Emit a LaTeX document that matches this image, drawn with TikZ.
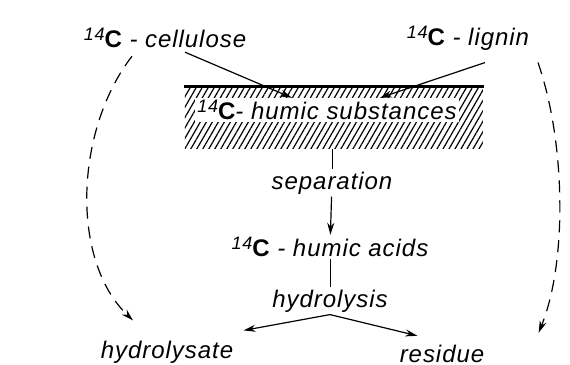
\documentclass[tikz,border=0pt]{standalone}
\usepackage{fontspec}
\setmainfont{Liberation Sans}[LetterSpace=4]
\usetikzlibrary{arrows.meta,patterns.meta}
\newcommand{\isoC}{\raisebox{0.55ex}{\fontsize{9}{10}\selectfont 14}{\upshape\bfseries C}}

\begin{document}
\begin{tikzpicture}[x=0.5pt,y=-0.5pt,
lbl/.style={font=\fontsize{12}{14}\selectfont\itshape, inner sep=1pt},
hatchbox/.style={pattern={Lines[angle=60,distance=2.6pt,line width=0.6pt]}, minimum width=149pt, minimum height=30.5pt, inner sep=0pt},
arrow/.style={-{Stealth[length=6pt,width=3.5pt]}, semithick},
dasharrow/.style={arrow, dash pattern=on 6pt off 4pt}
]
\useasboundingbox (0,0) rectangle (570,365);
% starting materials
\node[lbl] (cell) at (165,38) {\isoC{} - cellulose};
\node[lbl] (lig) at (468,38) {\isoC{} - lignin};
% humic substances (hatched)
\node[hatchbox] (hs) at (334,117.5) {};
\draw[line width=1.2pt] (hs.north west) -- (hs.north east);
\node[lbl, fill=white] (subst) at (327,110) {\isoC{}- humic substances};
\draw[arrow] ([xshift=10pt,yshift=-1pt]cell.south) -- ([xshift=-17.5pt]subst.north);
\draw[arrow] ([xshift=8.5pt,yshift=-5pt]lig.south) -- ([xshift=26.5pt]subst.north);
% separation and hydrolysis
\node[lbl] (sep) at (332,183) {separation};
\node[lbl] (acids) at (330,247) {\isoC{} - humic acids};
\node[lbl] (hydr) at (330,301) {hydrolysis};
\node[lbl] (hyd) at (167,352) {hydrolysate};
\node[lbl] (res) at (442,354) {residue};
\draw (sep.north |- hs.south) -- (sep.north);
\draw[arrow] (sep) -- (acids);
\draw (acids) -- (hydr);
\draw[arrow] (hydr.south) -- ([xshift=4pt,yshift=4pt]hyd.north east);
\draw[arrow] (hydr.south) -- ([xshift=10pt,yshift=3.5pt]res.north west);
% direct hydrolysis (dashed)
\draw[dasharrow] ([xshift=-16.5pt,yshift=-3pt]cell.south) .. controls (75,130) and (70,260) .. ([xshift=-17pt,yshift=9pt]hyd.north);
\draw[dasharrow] ([xshift=35pt,yshift=-5pt]lig.south) .. controls (565,140) and (568,260) .. ([xshift=26pt,yshift=5pt]res.north east);
\end{tikzpicture}
\end{document}
